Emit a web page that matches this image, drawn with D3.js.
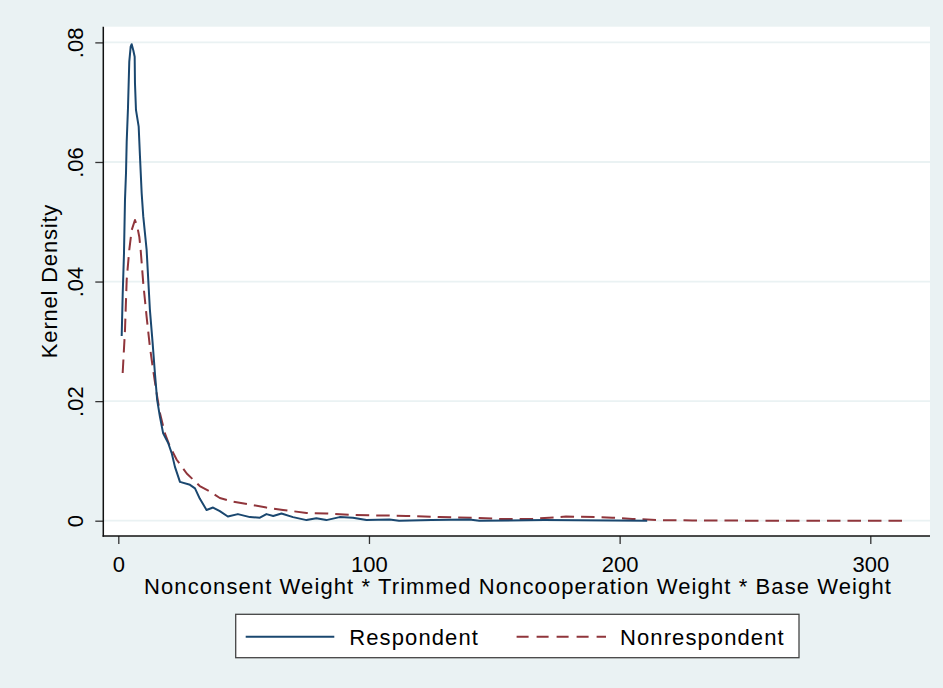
<!DOCTYPE html>
<html>
<head>
<meta charset="utf-8">
<script src="https://cdn.jsdelivr.net/npm/d3@7"></script>
<style>
  html, body { margin: 0; padding: 0; background: #EAF2F3; }
  svg { display: block; }
  text { font-family: "Liberation Sans", Arial, Helvetica, sans-serif; fill: #000; }
</style>
</head>
<body>
<script>
// ---- Data ----
const respondentX = [1.35,1.75,2.27,2.67,3.07,3.35,3.86,4.38,4.94,5.34,5.98,6.53,6.65,7.05,8.13,8.65,9.32,9.96,11.3,12.6,13.7,14.6,15.5,16.6,17.9,19.9,21.3,22.6,24.6,28.6,30.6,32.5,35.2,37.8,40.5,43.7,47.7,52.5,56.5,59.1,61.8,65.1,69.7,75.1,79.0,83.0,88.3,93.6,99.0,108.2,112,125,140,144,170,211];
const respondentY = [0.0309,0.0378,0.0447,0.0537,0.0581,0.0634,0.0690,0.0768,0.0793,0.0797,0.0787,0.0776,0.0732,0.0687,0.0659,0.0609,0.0548,0.0509,0.0453,0.0353,0.0297,0.0247,0.0202,0.0174,0.0146,0.0130,0.0113,0.0090,0.0065,0.0060,0.0054,0.0037,0.0018,0.0022,0.0016,0.0007,0.0011,0.0006,0.0005,0.0011,0.0008,0.0012,0.0006,0.0001,0.0004,0.0001,0.0006,0.0005,0.0001,0.0002,0.0000,0.0001,0.0002,0.0000,0.0001,0.0000];
const nonrespondentX = [1.75,2.67,3.35,4.38,5.34,6.65,7.57,8.37,8.92,9.96,11.3,12.6,13.9,15.3,16.6,18.6,20.6,23.3,27.3,32.5,36.5,40.5,45.7,52.5,59.1,65.7,75.1,83.0,92.3,101.6,114.9,128.2,141.4,152.1,165.3,178.6,191.9,197.1,205.1,215.8,229,255.6,314.6];
const nonrespondentY = [0.0247,0.0319,0.0403,0.0453,0.0486,0.0503,0.0492,0.0475,0.0453,0.0397,0.0341,0.0291,0.0252,0.0213,0.0180,0.0146,0.0124,0.0102,0.0079,0.0058,0.0049,0.0038,0.0032,0.0027,0.0022,0.0018,0.0013,0.0012,0.0010,0.0009,0.0008,0.0006,0.0005,0.0003,0.0003,0.0007,0.0006,0.0005,0.0003,0.0001,0.00005,0,0];
const xTicks = [0, 100, 200, 300];
const yTicks = [0, 0.02, 0.04, 0.06, 0.08];
const yTickLabels = ["0", ".02", ".04", ".06", ".08"];
const seriesNames = ["Respondent", "Nonrespondent"];
const xTitle = "Nonconsent Weight * Trimmed Noncooperation Weight * Base Weight";
const yTitle = "Kernel Density";

// ---- Layout ----
const W = 943, H = 688;
const plot = { left: 103.3, right: 930, top: 26.7, bottom: 536 };
const colors = ["#1a476f", "#90353b"];
const bg = "#EAF2F3";

const svg = d3.select("body").append("svg").attr("width", W).attr("height", H);
svg.append("rect").attr("width", W).attr("height", H).attr("fill", bg);
svg.append("rect")
  .attr("x", plot.left).attr("y", plot.top)
  .attr("width", plot.right - plot.left).attr("height", plot.bottom - plot.top)
  .attr("fill", "#fff");

const x = d3.scaleLinear().domain([0, 300]).range([118.3, 870.3]);
const y = d3.scaleLinear().domain([0, 0.08]).range([520.7, 42.4]);

// gridlines
svg.append("g").selectAll("line").data(yTicks).join("line")
  .attr("x1", plot.left).attr("x2", plot.right)
  .attr("y1", d => y(d)).attr("y2", d => y(d))
  .attr("stroke", bg).attr("stroke-width", 1.8);

// y axis
const yAxis = d3.axisLeft(y).tickValues(yTicks).tickSize(8)
  .tickFormat((d, i) => yTickLabels[i]);
const gy = svg.append("g").attr("transform", `translate(${plot.left},0)`).call(yAxis);
gy.select(".domain").remove();
gy.selectAll(".tick line").attr("stroke", "#333").attr("stroke-width", 1.3);
gy.selectAll(".tick text")
  .attr("font-size", 22).attr("font-family", "Liberation Sans, Arial, sans-serif")
  .attr("fill", "#000")
  .attr("x", null).attr("dy", null)
  .attr("text-anchor", "middle")
  .attr("transform", "translate(-20.5,0) rotate(-90)");
svg.append("line").attr("x1", plot.left).attr("x2", plot.left)
  .attr("y1", plot.top).attr("y2", plot.bottom + 0.7)
  .attr("stroke", "#111").attr("stroke-width", 1.5);

// x axis
const xAxis = d3.axisBottom(x).tickValues(xTicks).tickSize(8).tickFormat(d3.format("d"));
const gx = svg.append("g").attr("transform", `translate(0,${plot.bottom})`).call(xAxis);
gx.select(".domain").remove();
gx.selectAll(".tick line").attr("stroke", "#333").attr("stroke-width", 1.3);
gx.selectAll(".tick text")
  .attr("font-size", 22).attr("font-family", "Liberation Sans, Arial, sans-serif")
  .attr("fill", "#000").attr("y", 36.3).attr("dy", null);
svg.append("line").attr("x1", plot.left - 0.7).attr("x2", plot.right)
  .attr("y1", plot.bottom).attr("y2", plot.bottom)
  .attr("stroke", "#111").attr("stroke-width", 1.5);

// titles
svg.append("text").attr("x", 518).attr("y", 594)
  .attr("text-anchor", "middle").attr("font-size", 22)
  .attr("letter-spacing", 1.1).text(xTitle);
svg.append("text").attr("transform", "translate(57.3,281) rotate(-90)")
  .attr("text-anchor", "middle").attr("font-size", 22)
  .attr("letter-spacing", 0.8).text(yTitle);

// lines
const series = [
  { xs: respondentX, ys: respondentY, dash: null },
  { xs: nonrespondentX, ys: nonrespondentY, dash: "13.5 7" }
];
const line = d3.line().x(d => x(d[0])).y(d => y(d[1]));
series.slice().reverse().forEach((s, ri) => {
  const i = series.length - 1 - ri;
  const pts = s.xs.map((v, k) => [v, s.ys[k]]);
  svg.append("path").datum(pts)
    .attr("d", line).attr("fill", "none")
    .attr("stroke", colors[i]).attr("stroke-width", 2)
    .attr("stroke-linejoin", "round")
    .attr("stroke-dasharray", s.dash);
});

// legend
const lg = svg.append("g");
lg.append("rect").attr("x", 235.7).attr("y", 614.3).attr("width", 563.3).attr("height", 43.4)
  .attr("fill", "#fff").attr("stroke", "#444").attr("stroke-width", 1.3);
const legendItems = [
  { x1: 245.7, x2: 334.3, tx: 349.3 },
  { x1: 516.6, x2: 606, tx: 620 }
];
legendItems.forEach((it, i) => {
  lg.append("line").attr("x1", it.x1).attr("x2", it.x2)
    .attr("y1", 636.7).attr("y2", 636.7)
    .attr("stroke", colors[i]).attr("stroke-width", 2)
    .attr("stroke-dasharray", i === 1 ? "12 8" : null);
  lg.append("text").attr("x", it.tx).attr("y", 645)
    .attr("font-size", 22).attr("letter-spacing", 1.1).text(seriesNames[i]);
});
</script>
</body>
</html>
